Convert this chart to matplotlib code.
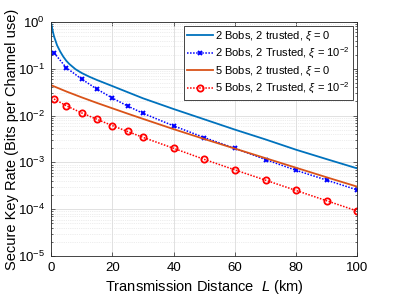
import matplotlib
matplotlib.use("Agg")
import matplotlib.pyplot as plt
from matplotlib.ticker import LogLocator, NullFormatter, FixedLocator

plt.rcParams['font.family'] = ['Liberation Sans', 'DejaVu Sans']
plt.rcParams['mathtext.fontset'] = 'custom'
plt.rcParams['mathtext.rm'] = 'Liberation Sans'
plt.rcParams['mathtext.it'] = 'Liberation Sans:italic'

# data
L_dense = [0, 0.5, 1, 2, 3, 4, 5, 6, 8, 10, 12.5, 15, 20, 25, 30, 40, 50, 60, 70, 80, 90, 100]
rate_2b_xi0 = [1.0, 0.676, 0.490, 0.316, 0.234, 0.182, 0.148, 0.126, 0.0977, 0.0813, 0.0676,
               0.0575, 0.0427, 0.0316, 0.0234, 0.0138, 0.00832, 0.00501, 0.00309, 0.00186,
               0.00117, 0.000741]

L_mark = [1, 5, 10, 15, 20, 25, 30, 40, 50, 60, 70, 80, 90, 100]
rate_2b_xi2 = [0.219, 0.105, 0.0603, 0.0367, 0.0237, 0.0160, 0.0112, 0.00603, 0.00339,
               0.00200, 0.00115, 0.000676, 0.000417, 0.000257]

L_5b = [0, 5, 10, 15, 20, 25, 30, 40, 50, 60, 70, 80, 90, 100]
rate_5b_xi0 = [0.0447, 0.0327, 0.0245, 0.0186, 0.0143, 0.0110, 0.00851, 0.00513, 0.00316,
               0.00197, 0.00123, 0.000767, 0.000479, 0.000302]
rate_5b_xi2 = [0.0226, 0.0162, 0.0114, 0.00832, 0.00610, 0.00457, 0.00343, 0.00200, 0.00116,
               0.000692, 0.000417, 0.000251, 0.000151, 0.0000912]

labels = [r'2 Bobs, 2 trusted, $\xi$ = 0',
          r'2 Bobs, 2 Trusted, $\xi$ = 10$^{-2}$',
          r'5 Bobs, 2 trusted, $\xi$ = 0',
          r'5 Bobs, 2 Trusted, $\xi$ = 10$^{-2}$']

fig = plt.figure(figsize=(3.95, 2.96), dpi=100)
ax = fig.add_axes([0.129, 0.135, 0.776, 0.791])

ax.semilogy(L_dense, rate_2b_xi0, '-', color='#0072BD', lw=1.3, label=labels[0])
ax.semilogy(L_mark, rate_2b_xi2, color='blue', lw=1.1, ls=(0, (1, 1)), marker='x', ms=3.5,
            mew=1.4, label=labels[1])
ax.semilogy(L_5b, rate_5b_xi0, '-', color='#D95319', lw=1.3, label=labels[2])
ax.semilogy(L_mark, rate_5b_xi2, color='red', lw=1.1, ls=(0, (1, 1)), marker='o', ms=4.5,
            mew=1.3, mfc='none', label=labels[3])

ax.set_xlim(0, 100)
ax.set_ylim(1e-5, 1)
ax.xaxis.set_major_locator(FixedLocator([0, 20, 40, 60, 80, 100]))
ax.yaxis.set_major_locator(LogLocator(base=10, numticks=10))
ax.yaxis.set_minor_locator(LogLocator(base=10, subs=range(2, 10), numticks=10))
ax.yaxis.set_minor_formatter(NullFormatter())

ax.grid(True, which='major', color='#dcdcdc', lw=0.6)
ax.grid(True, which='minor', axis='y', color='#dcdcdc', lw=0.5, ls=':')
ax.set_axisbelow(True)
ax.tick_params(which='both', direction='in', top=True, right=True, labelsize=9.5,
               color='#262626', width=0.5)
ax.tick_params(which='major', length=3, pad=4.5)
ax.tick_params(which='minor', length=1.5)
for s in ax.spines.values():
    s.set_color('#262626')
    s.set_linewidth(0.6)

ax.set_xlabel(r'Transmission Distance  $L$ (km)', fontsize=10.5, labelpad=3)
ax.set_ylabel('Secure Key Rate (Bits per Channel use)', fontsize=10.5)
ax.yaxis.set_label_coords(-0.104, 0.5)

leg = ax.legend(loc='upper right', fontsize=8, handlelength=2.3, handletextpad=0.2,
                borderpad=0.3, labelspacing=0.3, fancybox=False, framealpha=1,
                borderaxespad=0.4)
leg.get_frame().set_edgecolor('#262626')
leg.get_frame().set_linewidth(0.6)

fig.savefig('out.png', dpi=100)
